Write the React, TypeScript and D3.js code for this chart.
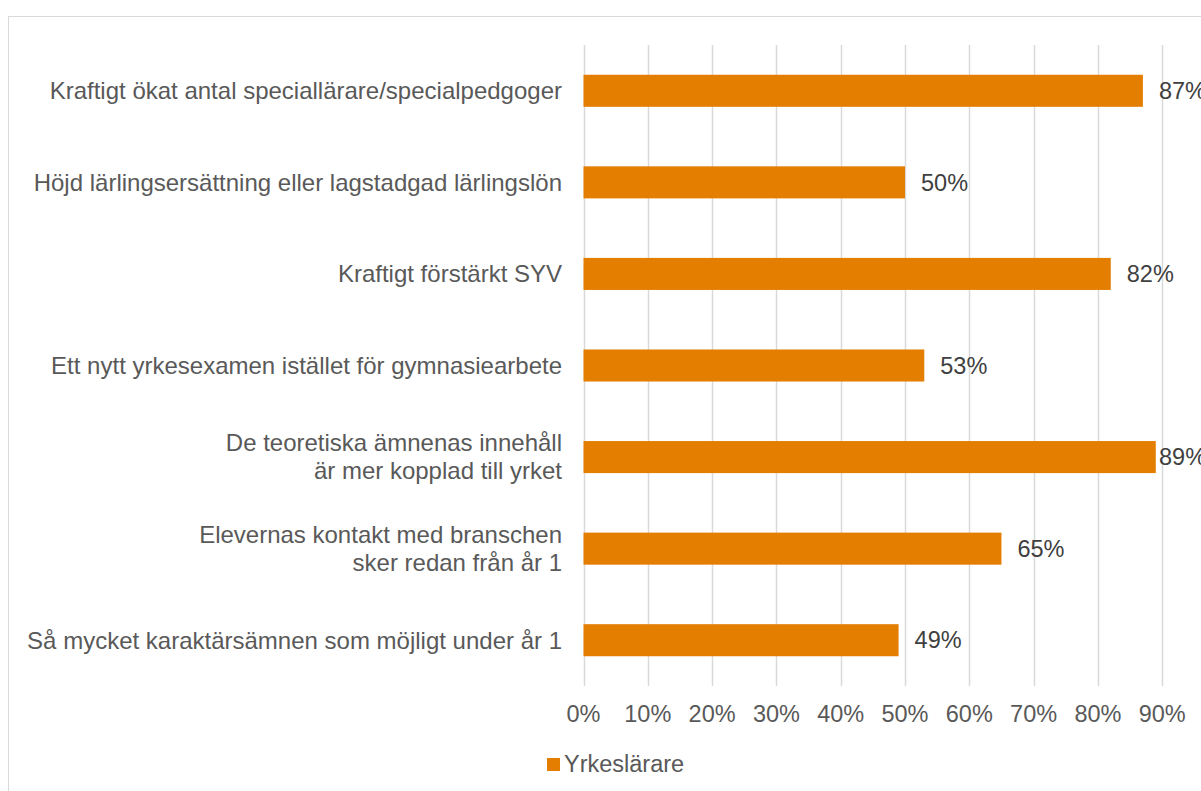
import * as d3 from 'd3';
import React, { useEffect, useRef } from 'react';

const categories = [
  "Kraftigt ökat antal speciallärare/specialpedgoger",
  "Höjd lärlingsersättning eller lagstadgad lärlingslön",
  "Kraftigt förstärkt SYV",
  "Ett nytt yrkesexamen istället för gymnasiearbete",
  "De teoretiska ämnenas innehåll\när mer kopplad till yrket",
  "Elevernas kontakt med branschen\nsker redan från år 1",
  "Så mycket karaktärsämnen som möjligt under år 1",
];
const values = [0.87, 0.5, 0.82, 0.53, 0.89, 0.65, 0.49];
const gridTicks = [0, 0.1, 0.2, 0.3, 0.4, 0.5, 0.6, 0.7, 0.8, 0.9, 1.0];
const tickLabels = [0, 0.1, 0.2, 0.3, 0.4, 0.5, 0.6, 0.7, 0.8, 0.9];
const seriesName = "Yrkeslärare";

const W = 1201;
const H = 791;
const FONT = "'Liberation Sans', Arial, sans-serif";
const BAR = "#E47E00";

const App = () => {
  const ref = useRef<SVGSVGElement>(null);

  useEffect(() => {
    const svg = d3.select(ref.current);
    svg.selectAll("*").remove();

    const plot = { left: 583.5, right: 1226.5, top: 45, bottom: 686 };

    // chart frame (runs off the right/bottom edge like the reference)
    svg.append("rect")
      .attr("x", 8.5).attr("y", 16.5)
      .attr("width", W).attr("height", H)
      .attr("fill", "#fff").attr("stroke", "#d9d9d9");

    const x = d3.scaleLinear().domain([0, 1]).range([plot.left, plot.right]);
    const y = d3.scaleBand().domain(categories).range([plot.top, plot.bottom]).paddingInner(0.65).paddingOuter(0.325);
    const pct = d3.format(".0%");

    // gridlines
    svg.append("g").selectAll("line").data(gridTicks).enter().append("line")
      .attr("x1", d => Math.round(x(d)) + 0.5).attr("x2", d => Math.round(x(d)) + 0.5)
      .attr("y1", plot.top).attr("y2", plot.bottom)
      .attr("stroke", "#d9d9d9").attr("stroke-width", 1.5);

    // tick labels
    svg.append("g").selectAll("text").data(tickLabels).enter().append("text")
      .attr("x", d => x(d)).attr("y", 714)
      .attr("dy", "0.35em")
      .attr("text-anchor", "middle")
      .attr("font-family", FONT).attr("font-size", 23.5).attr("fill", "#595959")
      .text(d => pct(d));

    // bars
    svg.append("g").selectAll("rect").data(values).enter().append("rect")
      .attr("x", x(0))
      .attr("y", (d, i) => y(categories[i])!)
      .attr("width", d => x(d) - x(0))
      .attr("height", y.bandwidth())
      .attr("fill", BAR);

    // value labels (Excel keeps them inside the plot edge)
    svg.append("g").selectAll("text").data(values).enter().append("text")
      .attr("x", d => Math.min(x(d) + 16, 1159))
      .attr("y", (d, i) => y(categories[i])! + y.bandwidth() / 2)
      .attr("dy", "0.35em")
      .attr("font-family", FONT).attr("font-size", 23.5).attr("fill", "#404040")
      .text(d => pct(d));

    // category labels
    const cat = svg.append("g").selectAll("text").data(categories).enter().append("text")
      .attr("text-anchor", "end")
      .attr("font-family", FONT).attr("font-size", 24).attr("fill", "#595959");
    cat.each(function (d) {
      const lines = d.split("\n");
      const cy = y(d)! + y.bandwidth() / 2;
      const lh = 28;
      lines.forEach((ln, j) => {
        d3.select(this).append("tspan")
          .attr("x", 562)
          .attr("y", cy + (j - (lines.length - 1) / 2) * lh)
          .attr("dy", "0.35em")
          .text(ln);
      });
    });

    // legend
    svg.append("rect")
      .attr("x", 547).attr("y", 758).attr("width", 13).attr("height", 13)
      .attr("fill", BAR);
    svg.append("text")
      .attr("x", 564).attr("y", 764).attr("dy", "0.35em")
      .attr("font-family", FONT).attr("font-size", 23.5).attr("fill", "#595959")
      .text(seriesName);
  }, []);

  return (
    <svg ref={ref} width={W} height={H}
      style={{ position: "absolute", left: 0, top: 0, display: "block", background: "#fff" }} />
  );
};

export default App;
